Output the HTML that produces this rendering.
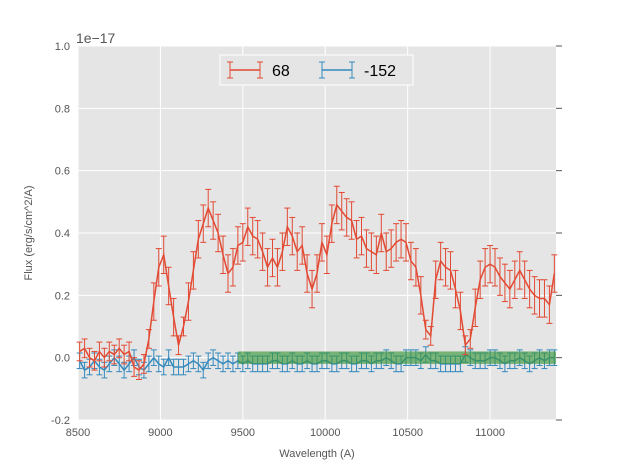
<!DOCTYPE html>
<html><head><meta charset="utf-8"><style>
body{margin:0;background:#fff;font-family:"Liberation Sans",sans-serif;}
svg text{font-family:"Liberation Sans",sans-serif;}
</style></head><body>
<svg id="chart" width="617" height="467">
</svg>
<script>
const wavelengths=[8510,8540,8570,8600,8630,8660,8690,8720,8750,8780,8810,8840,8870,8900,8930,8960,8990,9020,9050,9080,9110,9140,9170,9200,9230,9260,9290,9320,9350,9380,9410,9440,9470,9500,9530,9560,9590,9620,9650,9680,9710,9740,9770,9800,9830,9860,9890,9920,9950,9980,10010,10040,10070,10100,10130,10160,10190,10220,10250,10280,10310,10340,10370,10400,10430,10460,10490,10520,10550,10580,10610,10640,10670,10700,10730,10760,10790,10820,10850,10880,10910,10940,10970,11000,11030,11060,11090,11120,11150,11180,11210,11240,11270,11300,11330,11360,11390];
const redFlux=[0.02,0.03,0.00,-0.01,0.02,0.00,0.02,0.01,0.03,0.01,0.02,-0.03,-0.04,-0.02,0.06,0.18,0.29,0.33,0.23,0.13,0.04,0.10,0.18,0.28,0.38,0.43,0.48,0.44,0.40,0.33,0.27,0.29,0.36,0.37,0.42,0.39,0.38,0.34,0.29,0.32,0.29,0.34,0.42,0.39,0.34,0.36,0.27,0.22,0.27,0.37,0.33,0.43,0.49,0.47,0.45,0.44,0.38,0.39,0.35,0.34,0.33,0.40,0.34,0.35,0.37,0.38,0.37,0.31,0.29,0.20,0.09,0.07,0.25,0.31,0.29,0.28,0.22,0.15,0.04,0.06,0.16,0.25,0.29,0.30,0.29,0.26,0.24,0.22,0.25,0.28,0.25,0.22,0.20,0.19,0.19,0.17,0.27];
const blueFlux=[-0.01,-0.04,-0.03,-0.01,-0.03,-0.04,-0.02,0.0,-0.02,-0.04,-0.02,0.0,-0.03,-0.04,-0.02,0.0,-0.02,-0.03,0.0,-0.03,-0.03,-0.03,-0.02,-0.01,-0.02,-0.04,-0.01,0.0,-0.01,-0.02,-0.01,-0.02,-0.01,-0.02,-0.01,-0.02,-0.02,-0.02,-0.02,-0.01,-0.01,-0.02,-0.02,-0.01,-0.02,-0.02,-0.01,-0.02,-0.02,-0.01,-0.01,-0.02,-0.02,-0.01,-0.01,-0.02,-0.02,-0.01,-0.01,-0.02,-0.01,-0.01,0.0,-0.01,-0.02,-0.02,0.0,0.0,0.0,-0.01,0.01,-0.01,-0.01,-0.02,-0.02,-0.02,-0.02,-0.02,0.01,0.0,-0.01,-0.01,-0.01,0.0,0.0,-0.01,-0.02,-0.01,-0.01,0.0,-0.01,-0.02,-0.01,0.0,-0.01,0.0,0.0];
const redErrLow=0.03, redErrHigh=0.06, blueErr=0.025;
const band=[9470,11400,-0.02,0.02];
const xTicks=[8500,9000,9500,10000,10500,11000];
const yTicks=[-0.2,0.0,0.2,0.4,0.6,0.8,1.0];
const X0=78,X1=556,Y0=46,Y1=420,XMIN=8500,XMAX=11400,YMIN=-0.2,YMAX=1.0;
const xs=v=>X0+(v-XMIN)/(XMAX-XMIN)*(X1-X0);
const ys=v=>Y1-(v-YMIN)/(YMAX-YMIN)*(Y1-Y0);
const svg=document.getElementById('chart');
const NS='http://www.w3.org/2000/svg';
function mk(t,a,p){const e=document.createElementNS(NS,t);for(const k in a)e.setAttribute(k,a[k]);(p||svg).appendChild(e);return e;}
const bg=mk('rect',{x:X0,y:Y0,width:X1-X0,height:Y1-Y0,fill:'#e5e5e5'});


xTicks.forEach(t=>{const x=xs(t);
 const g=mk('line',{x1:x,x2:x,y1:Y0,y2:Y1,stroke:'#fff','stroke-width':1});
 
 
 const l=mk('text',{x:x,y:Y1+16,'text-anchor':'middle','font-size':11,fill:'#555'});l.textContent=t;
 
 });
yTicks.forEach(t=>{const y=ys(t);
 const g=mk('line',{x1:X0,x2:X1,y1:y,y2:y,stroke:'#fff','stroke-width':1});
 
 
 mk('line',{x1:X1,x2:X1+6,y1:y,y2:y,stroke:'#555'});
 const l=mk('text',{x:X0-8,y:y+4,'text-anchor':'end','font-size':11,fill:'#555'});l.textContent=t.toFixed(1);
 
 });
function series(vals,errFn,color,name){
 const g=mk('g',{});
 
 
 vals.forEach((v,i)=>{const err=errFn(v);const x=xs(wavelengths[i]),a=ys(v+err),b=ys(v-err);
  mk('line',{x1:x,x2:x,y1:a,y2:b,stroke:color,'stroke-width':1},g);
  mk('line',{x1:x-3,x2:x+3,y1:a,y2:a,stroke:color,'stroke-width':1},g);
  mk('line',{x1:x-3,x2:x+3,y1:b,y2:b,stroke:color,'stroke-width':1},g);});
 mk('polyline',{points:vals.map((v,i)=>xs(wavelengths[i])+','+ys(v)).join(' '),fill:'none',stroke:color,'stroke-width':1.5},g);
}
series(blueFlux,()=>blueErr,'#348abd','series-neg152');
const bandEl=mk('rect',{x:xs(band[0]),y:ys(band[3]),width:xs(band[1])-xs(band[0]),height:ys(band[2])-ys(band[3]),fill:'#3c963c','fill-opacity':0.65});


series(redFlux,v=>v>0.1?redErrHigh:redErrLow,'#e24a33','series-68');
const t1=mk('text',{x:76,y:43,'font-size':14,fill:'#555'});t1.textContent='1e\u221217';


const xt=mk('text',{x:317,y:457,'text-anchor':'middle','font-size':11,fill:'#555'});xt.textContent='Wavelength (A)';


const yt=mk('text',{x:32,y:233,'text-anchor':'middle','font-size':11,fill:'#555',transform:'rotate(-90 32 233)'});yt.textContent='Flux (erg/s/cm^2/A)';


const lg=mk('g',{});


mk('rect',{x:220,y:55,width:193,height:30,fill:'#e5e5e5',stroke:'#fff'},lg);
[[230,'#e24a33','68'],[322,'#348abd','-152']].forEach(([x,c,s])=>{
 const e=mk('g',{},lg);
 
 
 mk('line',{x1:x,x2:x+30,y1:70,y2:70,stroke:c,'stroke-width':1.5},e);
 mk('line',{x1:x,x2:x,y1:62,y2:78,stroke:c},e);mk('line',{x1:x+30,x2:x+30,y1:62,y2:78,stroke:c},e);
 mk('line',{x1:x-3,x2:x+3,y1:62,y2:62,stroke:c},e);mk('line',{x1:x-3,x2:x+3,y1:78,y2:78,stroke:c},e);
 mk('line',{x1:x+27,x2:x+33,y1:62,y2:62,stroke:c},e);mk('line',{x1:x+27,x2:x+33,y1:78,y2:78,stroke:c},e);
 const tx=mk('text',{x:x+42,y:76,'font-size':16,fill:'#000'},e);tx.textContent=s;});
</script>
</body></html>
